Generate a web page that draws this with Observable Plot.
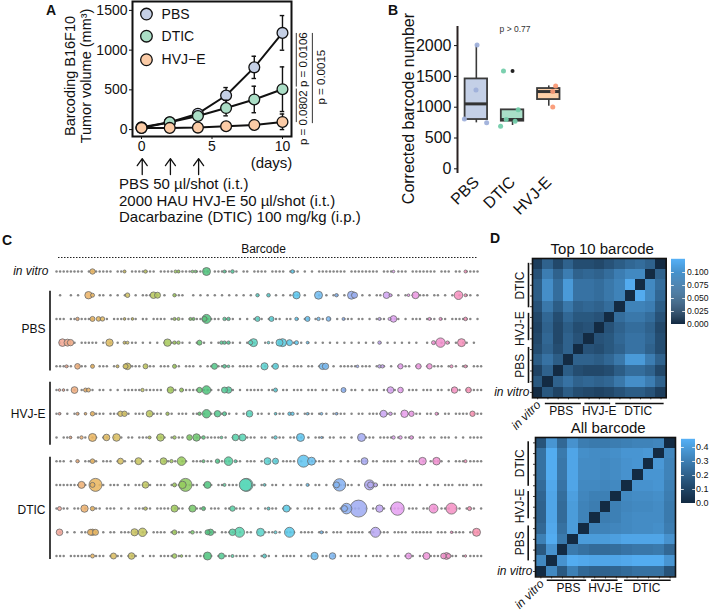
<!DOCTYPE html>
<html><head><meta charset="utf-8">
<script src="https://cdn.jsdelivr.net/npm/d3@7"></script>
<script src="https://cdn.jsdelivr.net/npm/@observablehq/plot@0.6"></script>
<style>
html,body{margin:0;padding:0;background:#fff}
#page{position:relative;width:709px;height:611px;overflow:hidden;font-family:"Liberation Sans",Arial,sans-serif;color:#111}
.note{position:absolute;white-space:nowrap;line-height:1}
</style></head><body><div id="page"></div>
<script>
const FONT = '"Liberation Sans",Arial,sans-serif';
const page = document.getElementById("page");
const BLUE_LOW = "#132B43", BLUE_HIGH = "#56B1F7";

/* ---------- Panel A ---------- */
const days = [0, 2, 4, 6, 8, 10];
const shotDays = [0, 2, 4];
const groupNames = ["PBS", "DTIC", "HVJ−E"];
const groupFill = ["#c5d0e6", "#abdec6", "#fbcba6"];
const pbsMean = [30, 92, 200, 429, 783, 1217];
const pbsErr = [12, 15, 28, 100, 140, 218];
const dticMean = [21, 92, 171, 271, 379, 508];
const dticErr = [10, 15, 28, 98, 167, 281];
const hvjMean = [21, 21, 25, 42, 58, 96];
const hvjErr = [8, 8, 10, 22, 60, 100];
const treatmentLines = ["PBS 50 µl/shot (i.t.)", "2000 HAU HVJ-E 50 µl/shot (i.t.)", "Dacarbazine (DTIC) 100 mg/kg (i.p.)"];
const pValues = [
  {label: "p = 0.0802", x: 11.49, y: 150},
  {label: "p = 0.0106", x: 11.49, y: 880},
  {label: "p = 0.0015", x: 12.76, y: 660}
];
const pLines = [
  {x: 10.98, y1: 88, y2: 510},
  {x: 10.98, y1: 535, y2: 1210},
  {x: 12.12, y1: 75, y2: 1210}
];

/* ---------- Panel B ---------- */
const boxGroups = ["PBS", "DTIC", "HVJ-E"];
const boxQ1 = [800, 773, 1124];
const boxMedian = [1054, 800, 1254];
const boxQ3 = [1459, 957, 1303];
const whiskerLow = [746, 703, 1016];
const whiskerHigh = [2010, 957, 1346];
const boxFill = ["#c4d0e7", "#a9dfc8", "#fdd0a8"];
const pointColor = ["#9fb0da", "#74cdab", "#fa9a76"];
const jitterGroup = [0, 0, 0, 0, 1, 1, 1, 1, 1, 2, 2, 2];
const jitterOffset = [-.33, -.01, .02, .285, -.25, -.33, -.175, .07, .155, .19, .11, .11];
const jitterValue = [810, 1281, 2011, 746, 1589, 692, 800, 773, 957, 1346, 1254, 1005];
const outlierGroup = [1], outlierValue = [1589];

/* ---------- Panel C: [barcode position, bubble radius] ---------- */
const rowNames = ["in vitro", "PBS 1", "PBS 2", "PBS 3", "PBS 4", "HVJ-E 1", "HVJ-E 2", "HVJ-E 3", "DTIC 1", "DTIC 2", "DTIC 3", "DTIC 4", "DTIC 5"];
const bubbleInVitro = [[36,2.7],[68,1.5],[89,1.7],[119,1.5],[122,1.5],[136,1.3],[139,1.3],[150,4],[168,1.5],[176,1.8],[236,1.8],[337,1.3],[409,1.5]];
const bubblePbs1 = [[32,3.7],[36,2],[71,2.3],[97,3.3],[101,3],[118,1.7],[201,1.7],[212,1.8],[240,3.7],[262,4],[280,1.7],[295,4],[298,3],[330,3.3],[334,1.5],[352,1.3],[359,3.5],[402,4.3],[409,1.5]];
const bubblePbs2 = [[21,1.7],[36,2.5],[42,2.3],[46,2.2],[68,1.3],[76,1.3],[118,1.5],[122,1.5],[134,1.5],[137,1.5],[148,2.5],[150,4.5],[168,1.7],[172,1.7],[201,2.5],[215,2.5],[240,1.7],[251,2.5],[262,1.7],[272,2.3],[287,1.5],[323,1.5],[333,1.5],[337,3.3],[373,1.5],[384,1.5],[409,1.8]];
const bubblePbs3 = [[6,3.8],[11,3.5],[14,3.2],[53,3.7],[68,1.5],[71,1.5],[111,3.7],[118,1.7],[122,1.7],[143,2.5],[165,1.7],[168,1.7],[172,1.7],[194,2.2],[197,4],[212,1.3],[223,3.5],[226,4],[233,3],[240,2],[251,1.3],[323,1.7],[377,2],[384,4.7],[391,1.7],[405,4]];
const bubblePbs4 = [[10,1.5],[21,2.8],[36,2],[61,1.5],[69,2.5],[71,3.3],[89,2.5],[118,2],[158,3],[168,1.8],[172,1.3],[208,3.6],[219,3],[266,3.2],[269,3.2],[301,1.3],[323,1.7],[326,1.7],[344,2.6],[362,2.7],[373,2.7],[395,1.5],[409,1.5]];
const bubbleHvj1 = [[3,1.3],[7,1.3],[18,3.4],[29,2],[32,2],[86,1.7],[114,3.3],[125,2],[143,2.7],[150,4.3],[168,3],[172,3.2],[219,2],[287,2.5],[334,3.3],[344,2.8],[398,3.2],[412,2.8]];
const bubbleHvj2 = [[3,1.3],[21,1.5],[29,1.3],[36,2.2],[64,2.7],[68,2.7],[93,3.3],[111,1.7],[143,1.7],[150,4.2],[161,3.2],[168,2],[193,3.3],[219,1.3],[233,1.7],[236,1.7],[251,1.3],[265,1.3],[280,1.3],[327,3.5],[334,1.7],[348,3.7],[355,2.7],[380,1.5],[416,2.7]];
const bubbleHvj3 = [[14,1.3],[25,1.7],[36,4],[50,3.3],[60,3.8],[93,1.5],[104,3.7],[118,1.7],[133,2.8],[140,3.7],[147,1.8],[165,1.3],[179,3.3],[186,3.5],[219,1.7],[244,4],[265,1],[305,4],[337,1.7],[344,1.7],[355,1.8]];
const bubbleDtic1 = [[21,1.7],[36,2.3],[64,3],[82,3.5],[107,3.4],[115,1.7],[125,4.3],[147,1.5],[161,2.2],[172,4.3],[179,1.5],[211,3.5],[219,3],[247,6],[255,4],[308,3.5],[366,3.8],[380,3.8],[409,1.5]];
const bubbleDtic2 = [[25,3.5],[39,6.5],[36,2.5],[89,3.3],[118,2],[129,6.5],[126,3.7],[151,3.5],[168,1.5],[189,6.2],[190,6.5],[208,1.3],[251,1.5],[283,6.2],[280,3],[313,5],[314,3],[319,2]];
const bubbleDtic3 = [[3,2],[28,3.7],[36,2.2],[89,1.7],[118,3.5],[136,3.5],[147,2],[176,2.7],[212,1.5],[230,3.5],[290,5.3],[288,3],[302,8.5],[323,3.7],[341,6.7],[377,4.5],[395,5.5],[413,2]];
const bubbleDtic4 = [[3,3.3],[34,3],[36,3.2],[39,3],[78,3.6],[86,4.2],[118,2.4],[136,1.8],[151,2.5],[154,3.2],[176,3.3],[183,5],[204,4],[219,1.5],[233,5],[265,1.5],[319,5],[395,1.2],[420,4]];
const bubbleDtic5 = [[36,2],[57,3],[75,3.3],[118,2.3],[125,1.3],[151,4],[165,3],[176,1.5],[208,2],[258,3.7],[276,3.3],[352,3],[370,3.5],[387,2.8],[390,3.4],[392,2.4],[409,1.2]];
const bubbleRows = [bubbleInVitro, bubblePbs1, bubblePbs2, bubblePbs3, bubblePbs4, bubbleHvj1, bubbleHvj2, bubbleHvj3, bubbleDtic1, bubbleDtic2, bubbleDtic3, bubbleDtic4, bubbleDtic5];
/* presence of each low-count barcode, one character per barcode */
const dotRows = [
 "########-#######-###-#######-####-####-####-#######-##-####-####-###-#-#-########-########-###-###-#######-###-##-####",
 "-#--#-#-----##-#-#-#--#-###-#-#--###--#-#-#-#-#-#-#-#-#-#--#-#-#-###-#---#-#-##-#-#--#-#-##--#-#-#-#-###-##-#-#-#-##-#",
 "###-#######-#-#-#######-##-####-##-#-####-####-###-#-#-###-####-##-#-##-#-#-#-#-###-##-#-###-###-#-###-###-##-######-#",
 "-#-#-#-#####-#-#-#-#-##-#-#-#-#-##-#-#-#-#-#-#-###-#-#-#--#-#-#-#-#-#-#-#-#-#-#-#-#-#-#-#-#-#-#-#-#-#--#-#-#-#-#-##-#-",
 "#####-###-#-###-##-#####-###-###-##-###-#-##-###-#-####-#-#-##-##-###-##-###-#-#####-###-###-#-####-##-#-###-#-#-##-###",
 "#-##-#-##-#-##-#-#-#####-#####-###-#####-###-#-###-#-#####-###-##-###-###-##-##-#-##-#-###-####-#-###-###-##-##-#-#####",
 "##-#-##-#-####-###-##-###-####-##-###-####-##-###-#-###-##-#-###-#-#-###-#-#-####-#-##-####-###-#-####-##-#-##-####-###",
 "#-###-#-#-##-##-#-#-##-####-###-#-##-#-##-####-#-#-#-###-##-#-##-####-#-###-##-##-#-#-###-####-#-###-##-##-###-#-#-####",
 "###-#-#-####-###-#-#-##-#-#-#-##-#-##-###-##-####-##-###-#-#-#-####-#-#####-##-#-#-####-##-####-#-###-#-####-#-###-####",
 "#######-#-#-##-###-##-#####-###-###-####-#-#-##-###-####-##-##-#-#-##-#-##-#-#-####-#-####-####-####-#-#-##-###-###-###",
 "#-##-##-#-###-###-#-#-#####-####-###-#-###-###-##-###-#-#-####-#-#-#-###-#-###-#-####-#-##-#-####-###-##-#-###-##-###-#",
 "-#-#-#-#####-#-##-###-#-##-####-####-#-##-###-####-#-##-#-###-#-###-####-###-###-#####-##-###-####-######-###-####-###-",
 "###-######-###-#-##-###-#-##-####-#-##-###-#-#-##-####-#-###-#-####-#-###-##-#-#-####-#-###-#-##-###-##-###-####-#-####"
];
const bubbleHueStops = [0, 36, 90, 125, 150, 190, 240, 290, 320, 340, 380, 421];
const bubbleHues = ["#f4a6a0", "#ebb662", "#c2c862", "#98cc5c", "#52c47e", "#5cd8bc", "#5cc8f0", "#8eb0f2", "#bca8f2", "#e6a2f2", "#f292d2", "#f992ae"];
const rowGroups = [
  {name: "PBS", y1: .83, y2: 4.2, labelY: 2.45},
  {name: "HVJ-E", y1: 4.67, y2: 7.33, labelY: 6},
  {name: "DTIC", y1: 7.83, y2: 12.15, labelY: 10.05}
];

/* ---------- Panel D: lower triangles, row 0 is in vitro ---------- */
const topTenLower = [
 [], [.045], [.025,.055], [.05,.07,.05], [.035,.055,.035,.055], [.03,.06,.03,.055,.04],
 [.025,.055,.03,.05,.035,.04], [.03,.06,.035,.06,.045,.045,.04],
 [.04,.075,.05,.075,.055,.06,.055,.065], [.05,.095,.065,.105,.07,.07,.065,.075,.085],
 [.05,.095,.065,.105,.07,.07,.065,.075,.085,.12], [.04,.08,.055,.08,.055,.06,.055,.065,.08,.09,.09],
 [.02,.055,.03,.055,.035,.035,.03,.04,.05,.06,.065,.055]
];
const allLower = [
 [], [.33], [.17,.36], [.3,.44,.28], [.22,.43,.25,.39], [.2,.42,.23,.39,.31],
 [.2,.42,.23,.39,.31,.29], [.21,.42,.24,.4,.32,.3,.3],
 [.23,.43,.26,.42,.33,.33,.32,.33], [.25,.44,.27,.42,.34,.34,.33,.34,.36],
 [.25,.44,.27,.42,.34,.34,.33,.34,.36,.37], [.25,.44,.28,.42,.35,.34,.34,.35,.37,.37,.38],
 [.15,.37,.22,.36,.29,.28,.28,.29,.3,.31,.31,.32]
];
const topTenTicks = [0, .025, .05, .075, .1];
const allTicks = [0, .1, .2, .3, .4];

/* ---------- helpers ---------- */
function mount(options, left, top) {
  const svg = Plot.plot({
    ...options,
    style: {fontFamily: FONT, background: "transparent", overflow: "visible", position: "absolute",
            left: left + "px", top: top + "px", maxWidth: "none", color: "#111", ...(options.style || {})}
  });
  page.appendChild(svg);
  return svg;
}
function note(text, x, y, css) {
  const el = document.createElement("div");
  el.className = "note";
  el.textContent = text;
  el.style.left = x + "px";
  el.style.top = y + "px";
  Object.assign(el.style, css || {});
  page.appendChild(el);
}
const series = (means, errs, idx) => days.map((d, i) => ({day: d, mean: means[i], low: Math.max(means[i] - errs[i], 0), high: means[i] + errs[i], idx}));
const allSeries = [series(pbsMean, pbsErr, 0), series(dticMean, dticErr, 1), series(hvjMean, hvjErr, 2)];
const upArrow = {draw(ctx, l) {
  ctx.moveTo(0, 0); ctx.lineTo(0, -l);
  ctx.moveTo(-5, -l + 7); ctx.lineTo(0, -l); ctx.lineTo(5, -l + 7);
}};

/* ---------- draw A ---------- */
mount({
  width: 335, height: 178, marginLeft: 132, marginRight: 44, marginTop: 1, marginBottom: 42,
  x: {domain: [-.64, 10.64]}, y: {domain: [-87, 1612]},
  style: {fontSize: "14px"},
  marks: [
    Plot.axisY({ticks: [0, 500, 1000, 1500], tickSize: 3, tickPadding: 2, label: null, fontSize: 14, tickFormat: d => String(d)}),
    Plot.axisX({ticks: [0, 5, 10], tickSize: 3, tickPadding: 2, label: null, fontSize: 14}),
    ...allSeries.flatMap(s => [
      Plot.ruleX(s, {x: "day", y1: "low", y2: "high", stroke: "#111", strokeWidth: 1.4}),
      Plot.ruleY(s, {y: "high", x1: d => d.day - .16, x2: d => d.day + .16, stroke: "#111", strokeWidth: 1.4}),
      Plot.ruleY(s, {y: "low", x1: d => d.day - .16, x2: d => d.day + .16, stroke: "#111", strokeWidth: 1.4}),
      Plot.line(s, {x: "day", y: "mean", stroke: "#111", strokeWidth: 2}),
      Plot.dot(s, {x: "day", y: "mean", r: 5.4, fill: groupFill[s[0].idx], stroke: "#111", strokeWidth: 1.3})
    ]),
    Plot.dot(groupNames, {x: () => .35, y: (d, i) => [1454, 1175, 879][i], r: 5.8, fill: (d, i) => groupFill[i], stroke: "#111", strokeWidth: 1.3}),
    Plot.text(groupNames, {x: () => 1.42, y: (d, i) => [1454, 1175, 879][i], text: d => d, textAnchor: "start", fontSize: 14}),
    Plot.frame({stroke: "#111", strokeWidth: 2}),
    Plot.text(["Barcoding B16F10"], {x: () => -5.04, y: () => 675, rotate: -90, fontSize: 14.5}),
    Plot.text(["Tumor volume (mm³)"], {x: () => -3.9, y: () => 675, rotate: -90, fontSize: 14.5}),
    Plot.text(pValues, {x: "x", y: "y", text: "label", rotate: -90, fontSize: 11.5}),
    Plot.ruleX(pLines, {x: "x", y1: "y1", y2: "y2", stroke: "#333", strokeWidth: 1}),
    Plot.text(["(days)"], {x: () => 9.22, y: () => -425, fontSize: 15}),
    Plot.vector(shotDays, {x: d => d + .05, y: () => -466, length: 16, shape: upArrow, stroke: "#111", strokeWidth: 1.3, fill: "none"})
  ]
}, 0, 0);
treatmentLines.forEach((t, i) => note(t, 119, 176 + i * 16.7, {fontSize: "15px"}));
note("A", 46, 3, {fontSize: "14px", fontWeight: "bold"});

/* ---------- draw B ---------- */
const boxes = boxGroups.map((name, i) => ({i, name, q1: boxQ1[i], med: boxMedian[i], q3: boxQ3[i], lo: whiskerLow[i], hi: whiskerHigh[i]}));
const jitter = jitterValue.map((v, i) => ({x: jitterGroup[i] + jitterOffset[i], v, g: jitterGroup[i]}));
const outliers = outlierValue.map((v, i) => ({x: outlierGroup[i], v}));
mount({
  width: 175, height: 210, marginLeft: 62, marginRight: 0, marginTop: 26, marginBottom: 37,
  x: {domain: [-.52, 2.6], axis: null}, y: {domain: [-76, 2310]},
  style: {fontSize: "16px"},
  marks: [
    Plot.ruleX([0], {x: () => -.52, stroke: "#2a2222", strokeWidth: 2}),
    Plot.axisY({ticks: [0, 500, 1000, 1500, 2000], tickSize: 3, tickPadding: 3, label: null, fontSize: 16, tickFormat: d => String(d)}),
    Plot.ruleX(boxes, {x: "i", y1: "lo", y2: "hi", stroke: "#3a3a3a", strokeWidth: 1.6}),
    Plot.rect(boxes, {x1: d => d.i - .31, x2: d => d.i + .31, y1: "q1", y2: "q3", fill: d => boxFill[d.i], stroke: "#3a3a3a", strokeWidth: 1.8}),
    Plot.ruleY(boxes, {y: "med", x1: d => d.i - .31, x2: d => d.i + .31, stroke: "#333", strokeWidth: 3}),
    Plot.dot(outliers, {x: "x", y: "v", r: 2, fill: "#222"}),
    Plot.dot(jitter, {x: "x", y: "v", r: 2.5, fill: d => pointColor[d.g], fillOpacity: .95}),
    Plot.text(boxes, {x: "i", y: () => -76, text: "name", rotate: -45, textAnchor: "end", fontSize: 16, dx: 0, dy: 6}),
    Plot.text(["p > 0.77"], {x: () => 1.07, y: () => 2257, fontSize: 8.5, fill: "#333"}),
    Plot.text(["Corrected barcode number"], {x: () => -1.85, y: () => 978, rotate: -90, fontSize: 16})
  ]
}, 395, 0);
note("B", 388, 3, {fontSize: "14px", fontWeight: "bold"});

/* ---------- draw C ---------- */
const bubbles = bubbleRows.flatMap((row, r) => row.map(([x, size]) => ({x, size, r})));
const dots = dotRows.flatMap((s, r) => Array.from(s).flatMap((c, i) => c === "#" ? [{i, r}] : []));
const dotPitch = 421 / 117;
mount({
  width: 490, height: 340, marginLeft: 0, marginRight: 0, marginTop: 0, marginBottom: 0,
  x: {domain: [0, 421], range: [56, 477], axis: null},
  y: {domain: [0, 12], range: [35, 319.5], axis: null},
  r: {type: "linear", domain: [0, 10], range: [0, 10]},
  color: {type: "linear", domain: bubbleHueStops, range: bubbleHues, interpolate: "rgb"},
  style: {fontSize: "12px"},
  marks: [
    Plot.dot(dots, {x: d => d.i * dotPitch, y: "r", r: () => 1.25, fill: "#868686", stroke: "none"}),
    Plot.dot([...bubbles].sort((a, b) => b.size - a.size), {x: "x", y: "r", r: "size", fill: "x", fillOpacity: .88, stroke: "#6a6a6a", strokeWidth: .8}),
    Plot.ruleY([0], {y: () => -.59, x1: () => 2, x2: () => 421, stroke: "#222", strokeDasharray: "1.5,1.5", strokeWidth: 1}),
    Plot.text(["Barcode"], {x: () => 207, y: () => -.96, fontSize: 12}),
    Plot.text(["in vitro"], {x: () => -8, y: () => 0, textAnchor: "end", fontStyle: "italic", fontSize: 12}),
    Plot.ruleX(rowGroups, {x: () => -6.5, y1: "y1", y2: "y2", stroke: "#111", strokeWidth: 1.6}),
    Plot.text(rowGroups, {x: () => -11, y: "labelY", text: "name", textAnchor: "end", fontSize: 12})
  ]
}, 0, 236);
note("C", 2, 233, {fontSize: "14px", fontWeight: "bold"});

/* ---------- draw D ---------- */
function fullMatrix(lower) {
  return lower.flatMap((row, r) => lower.map((_, c) => ({
    row: r, col: c, v: r === c ? 0 : (c < r ? lower[r][c] : lower[c][r])
  })));
}
const rowLabels = ["PBS", "HVJ-E", "DTIC"];
function heat(cfg) {
  const cells = fullMatrix(cfg.lower);
  const centers = d3.range(13).map(i => i + .5);
  mount({
    width: cfg.w + 110, height: cfg.h + 70,
    marginLeft: 60, marginTop: 30, marginRight: 50, marginBottom: 40,
    x: {domain: [0, 13]}, y: {domain: [0, 13]},
    color: {type: "linear", domain: [0, cfg.max], range: [BLUE_LOW, BLUE_HIGH], interpolate: "lab"},
    style: {fontSize: "12px"},
    marks: [
      Plot.axisX({ticks: centers, tickFormat: () => "", tickSize: cfg.tick, label: null, strokeOpacity: .8}),
      Plot.axisY({ticks: centers, tickFormat: () => "", tickSize: cfg.tick, label: null, strokeOpacity: .8}),
      Plot.rect(cells, {x1: "col", x2: d => d.col + 1, y1: "row", y2: d => d.row + 1, fill: "v", shapeRendering: "crispEdges"}),
      Plot.frame({stroke: "#111", strokeWidth: 1.6}),
      Plot.text([cfg.title], {x: () => cfg.titleX, y: () => cfg.titleY, fontSize: 15}),
      Plot.ruleX(cfg.yBars, {x: () => 0, y1: d => d[0], y2: d => d[1], dx: cfg.barLeft, stroke: "#111", strokeWidth: 1.6}),
      Plot.text(rowLabels, {x: () => 0, y: (d, i) => cfg.yLabel[i], rotate: -90, dx: cfg.labelDx, fontSize: 12}),
      Plot.ruleY(cfg.xBars, {y: () => 0, x1: d => d[0], x2: d => d[1], dy: cfg.barBottom, stroke: "#111", strokeWidth: 1.6}),
      Plot.text(rowLabels, {x: (d, i) => cfg.xLabel[i], y: () => 0, dy: cfg.barBottom + 8, fontSize: 12}),
      Plot.text(["in vitro"], {x: () => 0, y: () => .5, textAnchor: "end", dx: -3, fontStyle: "italic", fontSize: 12}),
      Plot.text(["in vitro"], {x: () => .6, y: () => 0, rotate: -45, textAnchor: "end", dy: 5, fontStyle: "italic", fontSize: 12})
    ]
  }, cfg.left - 60, cfg.top - 30);
}
function colorbar(cfg) {
  const steps = d3.range(0, cfg.top, cfg.top / 64);
  mount({
    width: 50, height: cfg.h, marginLeft: 0, marginRight: 36, marginTop: 0, marginBottom: 0,
    x: {domain: [0, 1], axis: null}, y: {domain: [0, cfg.top], axis: null},
    color: {type: "linear", domain: [0, cfg.max], range: [BLUE_LOW, BLUE_HIGH], interpolate: "lab", clamp: true},
    style: {fontSize: "9px"},
    marks: [
      Plot.rect(steps, {x1: () => 0, x2: () => 1, y1: d => d, y2: d => d + cfg.top / 64 * 1.2, fill: d => d}),
      Plot.ruleY(cfg.ticks, {x1: () => 0, x2: () => .2, stroke: "#fff", strokeWidth: .8}),
      Plot.ruleY(cfg.ticks, {x1: () => .8, x2: () => 1, stroke: "#fff", strokeWidth: .8}),
      Plot.text(cfg.ticks, {x: () => 1, y: d => d, text: d => d3.format(cfg.fmt)(d), textAnchor: "start", dx: cfg.dx, fontSize: cfg.font})
    ]
  }, cfg.left, cfg.y);
}
heat({
  lower: topTenLower, max: .125, title: "Top 10 barcode", left: 532.3, top: 257.7, w: 133.7, h: 139.3, tick: 2,
  titleX: 6.78, titleY: 13.83, barLeft: -4, barBottom: 5.7, labelDx: -12.3,
  yBars: [[1.34, 4.7], [5.33, 7.88], [8.4, 12.55]], xBars: [[1.25, 4.75], [5.1, 7.6], [8.1, 12.8]],
  yLabel: [3, 6.45, 10.47], xLabel: [2.79, 6.49, 10.28]
});
colorbar({max: .125, top: .125, ticks: topTenTicks, fmt: ".3f", left: 671, y: 259, h: 65, font: 8.6, dx: 1.5});
heat({
  lower: allLower, max: .457, title: "All barcode", left: 535, top: 437.3, w: 140, h: 139.4, tick: 2,
  titleX: 6.75, titleY: 13.9, barLeft: -7.3, barBottom: 3.3, labelDx: -15,
  yBars: [[1.49, 4.75], [5.42, 7.96], [8.45, 12.6]], xBars: [[1.09, 4.75], [5.2, 7.67], [8.27, 12.6]],
  yLabel: [3.14, 6.62, 10.6], xLabel: [3.06, 6.5, 10.3]
});
colorbar({max: .457, top: .457, ticks: allTicks, fmt: ".1f", left: 681, y: 439, h: 64, font: 9, dx: .5});
note("D", 490, 231, {fontSize: "14px", fontWeight: "bold"});
</script></body></html>
